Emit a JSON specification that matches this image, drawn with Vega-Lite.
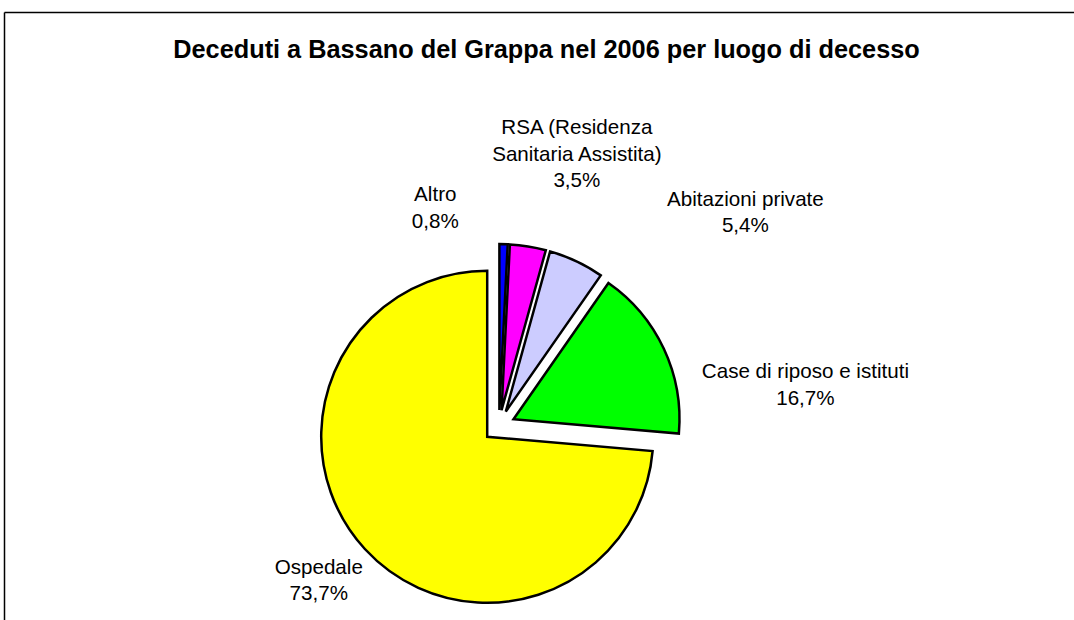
{
  "$schema": "https://vega.github.io/schema/vega-lite/v6.json",
  "width": 1070,
  "height": 608,
  "autosize": "none",
  "padding": {"left": 4, "top": 12, "right": 0, "bottom": 0},
  "background": "white",
  "view": {"stroke": null},
  "config": {"font": "Liberation Sans"},
  "title": {
    "text": "Deceduti a Bassano del Grappa nel 2006 per luogo di decesso",
    "font": "Liberation Sans",
    "fontSize": 25.3,
    "fontWeight": "bold",
    "color": "black",
    "anchor": "middle",
    "frame": "group",
    "baseline": "alphabetic",
    "dx": 7.5,
    "offset": -71
  },
  "data": {
    "values": [
      {"luogo": "Altro", "pct": 0.8, "ord": 1, "etichetta": ["Altro", "0,8%"]},
      {"luogo": "RSA (Residenza Sanitaria Assistita)", "pct": 3.5, "ord": 2, "etichetta": ["RSA (Residenza", "Sanitaria Assistita)", "3,5%"]},
      {"luogo": "Abitazioni private", "pct": 5.4, "ord": 3, "etichetta": ["Abitazioni private", "5,4%"]},
      {"luogo": "Case di riposo e istituti", "pct": 16.7, "ord": 4, "etichetta": ["Case di riposo e istituti", "16,7%"]},
      {"luogo": "Ospedale", "pct": 73.7, "ord": 5, "etichetta": ["Ospedale", "73,7%"]}
    ]
  },
  "transform": [
    {"stack": "pct", "groupby": [], "sort": [{"field": "ord", "order": "ascending"}], "offset": "normalize", "as": ["p0", "p1"]}
  ],
  "encoding": {
    "x": {
      "datum": 0, "type": "quantitative", "stack": null,
      "scale": {"domain": [-495, 575], "nice": false, "zero": false},
      "axis": {"orient": "top", "domain": true, "domainColor": "black", "domainWidth": 1.5, "ticks": false, "labels": false, "grid": false, "title": null}
    },
    "y": {
      "datum": 0, "type": "quantitative", "stack": null,
      "scale": {"domain": [-194, 414], "nice": false, "zero": false},
      "axis": {"orient": "left", "domain": true, "domainColor": "black", "domainWidth": 1.5, "ticks": false, "labels": false, "grid": false, "title": null}
    },
    "theta": {"field": "p0", "type": "quantitative", "stack": null, "scale": {"domain": [0, 1]}}
  },
  "layer": [
    {
      "mark": {
        "type": "arc",
        "radius": 166,
        "stroke": "black",
        "strokeWidth": 2.5,
        "xOffset": {"expr": "16*sin(PI*(datum.p0+datum.p1))"},
        "yOffset": {"expr": "-16*cos(PI*(datum.p0+datum.p1))"}
      },
      "encoding": {
        "theta2": {"field": "p1"},
        "color": {
          "field": "luogo", "type": "nominal", "legend": null,
          "scale": {
            "domain": ["Altro", "RSA (Residenza Sanitaria Assistita)", "Abitazioni private", "Case di riposo e istituti", "Ospedale"],
            "range": ["#0000FF", "#FF00FF", "#CCCCFF", "#00FF00", "#FFFF00"]
          }
        }
      }
    },
    {
      "mark": {
        "type": "text",
        "radius": 250,
        "thetaOffset": {"expr": "PI*(datum.p1-datum.p0)"},
        "dx": {"expr": "[-70, 38, 140, 80, 4][datum.ord-1]"},
        "dy": {"expr": "[19, -51, 0, 52, -27][datum.ord-1]"},
        "font": "Liberation Sans",
        "fontSize": 20.6,
        "lineHeight": 26.5,
        "align": "center",
        "baseline": "middle",
        "color": "black"
      },
      "encoding": {
        "text": {"field": "etichetta"}
      }
    }
  ]
}
